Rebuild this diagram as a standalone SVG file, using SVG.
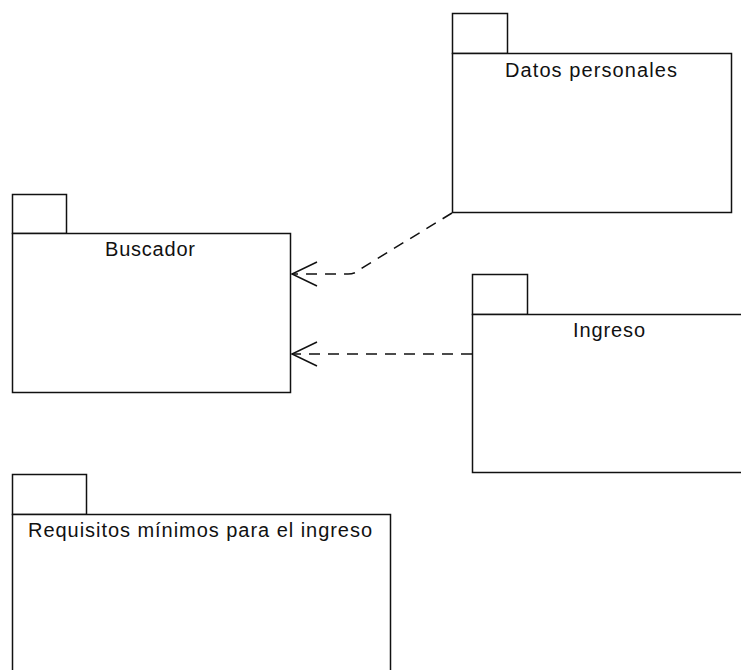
<svg xmlns="http://www.w3.org/2000/svg" width="741" height="670" viewBox="0 0 741 670">
<style>
.pk{fill:#fff;stroke:#111;stroke-width:1.5}
.lbl{font-family:"Liberation Sans",Arial,sans-serif;font-size:20px;fill:#111}
.dep{fill:none;stroke:#111;stroke-width:1.5;stroke-dasharray:11 8}
.head{fill:none;stroke:#111;stroke-width:1.5}
</style>
<rect width="741" height="670" fill="#fff"/>
<g id="datos-personales">
<rect class="pk" x="452.5" y="13.5" width="55" height="40"/>
<rect class="pk" x="452.5" y="53.5" width="279" height="159"/>
<text class="lbl" x="505" y="77" textLength="172" lengthAdjust="spacing">Datos personales</text>
</g>
<g id="buscador">
<rect class="pk" x="12.5" y="194.5" width="54" height="39"/>
<rect class="pk" x="12.5" y="233.5" width="278" height="159"/>
<text class="lbl" x="105" y="256" textLength="90" lengthAdjust="spacing">Buscador</text>
</g>
<g id="ingreso">
<rect class="pk" x="472.5" y="274.5" width="55" height="40"/>
<rect class="pk" x="472.5" y="314.5" width="275" height="158"/>
<text class="lbl" x="573" y="337" textLength="72" lengthAdjust="spacing">Ingreso</text>
</g>
<g id="requisitos">
<rect class="pk" x="12.5" y="474.5" width="74" height="40"/>
<rect class="pk" x="12.5" y="514.5" width="378" height="170"/>
<text class="lbl" x="28" y="537" textLength="344" lengthAdjust="spacing">Requisitos mínimos para el ingreso</text>
</g>
<g id="connectors">
<path class="dep" d="M452,213 L362,268 Q356,274 348,274 L292,274"/>
<path class="head" d="M317,262 L292,274 L317,286"/>
<path class="dep" d="M472,354 L292,354"/>
<path class="head" d="M317,342 L292,354 L317,366"/>
</g>
</svg>
